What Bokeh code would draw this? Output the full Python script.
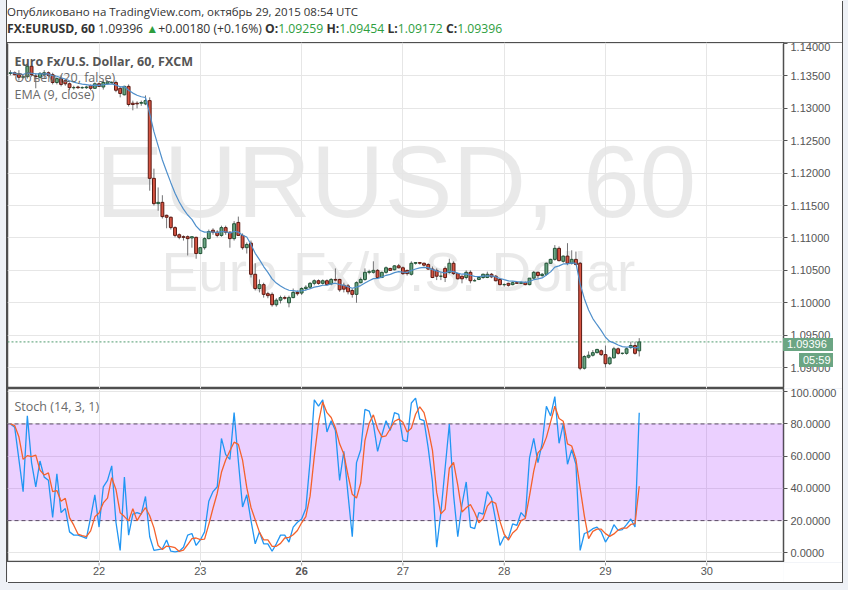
from bokeh.plotting import figure
from bokeh.models import (Range1d, ColumnDataSource, FixedTicker, Span, BoxAnnotation,
                          Label, Div, NumeralTickFormatter)
from bokeh.layouts import column
from bokeh.embed import file_html
from bokeh.resources import INLINE
from bokeh.core.properties import value
import pandas as pd

# ---------------- data (EURUSD, 60 min, FXCM) ----------------
hours = list(range(3, 153))   # hourly bar index, 24 bars per trading day (day 22 starts at 24)

opens = [1.1354, 1.1355, 1.1352, 1.1348, 1.1349, 1.1365, 1.1350, 1.1348, 1.1352, 1.1355,
         1.1352, 1.1340, 1.1346, 1.1343, 1.1338, 1.1332, 1.1333, 1.1332, 1.1332, 1.1335,
         1.1331, 1.1338, 1.1333, 1.1338, 1.1340, 1.1340, 1.1331, 1.1321, 1.1334, 1.1308,
         1.1308, 1.1308, 1.1307, 1.1312, 1.1192, 1.1153, 1.1155, 1.1135, 1.1132, 1.1116,
         1.1105, 1.1102, 1.1102, 1.1100, 1.1101, 1.1076, 1.1085, 1.1099, 1.1112, 1.1109,
         1.1104, 1.1116, 1.1109, 1.1099, 1.1124, 1.1104, 1.1085, 1.1092, 1.1044, 1.1022,
         1.1028, 1.1014, 1.1013, 1.0997, 1.1004, 1.1008, 1.1000, 1.1008, 1.1016, 1.1015,
         1.1022, 1.1024, 1.1030, 1.1034, 1.1030, 1.1034, 1.1029, 1.1036, 1.1036, 1.1027,
         1.1026, 1.1019, 1.1013, 1.1031, 1.1036, 1.1047, 1.1047, 1.1050, 1.1039, 1.1047,
         1.1053, 1.1051, 1.1057, 1.1054, 1.1050, 1.1044, 1.1061, 1.1062, 1.1061, 1.1059,
         1.1052, 1.1050, 1.1041, 1.1053, 1.1047, 1.1061, 1.1045, 1.1041, 1.1039, 1.1047,
         1.1034, 1.1036, 1.1039, 1.1039, 1.1044, 1.1041, 1.1036, 1.1028, 1.1030, 1.1028,
         1.1031, 1.1030, 1.1031, 1.1028, 1.1038, 1.1047, 1.1042, 1.1044, 1.1061, 1.1067,
         1.1084, 1.1064, 1.1072, 1.1061, 1.1067, 1.1061, 1.0899, 1.0916, 1.0919, 1.0923,
         1.0926, 1.0920, 1.0906, 1.0915, 1.0929, 1.0922, 1.0922, 1.0931, 1.0934, 1.09259]
highs = [1.1359, 1.1357, 1.1359, 1.1351, 1.1368, 1.1367, 1.1354, 1.1356, 1.1359, 1.1357,
         1.1355, 1.1348, 1.1351, 1.1345, 1.1340, 1.1335, 1.1335, 1.1334, 1.1335, 1.1337,
         1.1340, 1.1340, 1.1343, 1.1343, 1.1342, 1.1343, 1.1334, 1.1335, 1.1337, 1.1312,
         1.1311, 1.1312, 1.1320, 1.1317, 1.1207, 1.1178, 1.1166, 1.1136, 1.1133, 1.1118,
         1.1107, 1.1104, 1.1104, 1.1102, 1.1102, 1.1086, 1.1101, 1.1113, 1.1115, 1.1112,
         1.1119, 1.1119, 1.1110, 1.1126, 1.1133, 1.1107, 1.1093, 1.1096, 1.1061, 1.1036,
         1.1031, 1.1017, 1.1016, 1.1007, 1.1011, 1.1011, 1.1011, 1.1022, 1.1019, 1.1024,
         1.1027, 1.1032, 1.1036, 1.1036, 1.1036, 1.1036, 1.1038, 1.1053, 1.1037, 1.1031,
         1.1029, 1.1022, 1.1033, 1.1039, 1.1053, 1.1051, 1.1064, 1.1052, 1.1048, 1.1056,
         1.1054, 1.1058, 1.1060, 1.1056, 1.1051, 1.1064, 1.1062, 1.1062, 1.1062, 1.1061,
         1.1056, 1.1053, 1.1047, 1.1056, 1.1068, 1.1064, 1.1046, 1.1042, 1.1050, 1.1050,
         1.1037, 1.1039, 1.1045, 1.1048, 1.1046, 1.1043, 1.1037, 1.1030, 1.1031, 1.1033,
         1.1033, 1.1033, 1.1033, 1.1038, 1.1049, 1.1048, 1.1046, 1.1062, 1.1068, 1.1089,
         1.1087, 1.1073, 1.1092, 1.1081, 1.1079, 1.1063, 1.0919, 1.0925, 1.0927, 1.0929,
         1.0928, 1.0934, 1.0917, 1.0932, 1.0931, 1.0923, 1.0931, 1.0940, 1.0940, 1.09454]
lows = [1.1351, 1.1351, 1.1343, 1.1346, 1.1346, 1.1349, 1.1331, 1.1346, 1.1346, 1.1349,
        1.1337, 1.1337, 1.1334, 1.1335, 1.1328, 1.1329, 1.1330, 1.1330, 1.1330, 1.1328,
        1.1330, 1.1333, 1.1329, 1.1337, 1.1338, 1.1325, 1.1317, 1.1320, 1.1303, 1.1297,
        1.1300, 1.1304, 1.1305, 1.1173, 1.1150, 1.1142, 1.1130, 1.1115, 1.1113, 1.1101,
        1.1098, 1.1096, 1.1073, 1.1085, 1.1068, 1.1075, 1.1082, 1.1098, 1.1105, 1.1101,
        1.1102, 1.1105, 1.1085, 1.1096, 1.1104, 1.1082, 1.1076, 1.1039, 1.1019, 1.1016,
        1.1008, 1.1007, 1.0994, 1.0994, 1.0999, 1.1005, 1.0993, 1.1007, 1.1011, 1.1012,
        1.1019, 1.1021, 1.1027, 1.1028, 1.1028, 1.1027, 1.1027, 1.1033, 1.1017, 1.1016,
        1.1013, 1.1008, 1.1000, 1.1030, 1.1034, 1.1044, 1.1045, 1.1038, 1.1038, 1.1045,
        1.1049, 1.1050, 1.1053, 1.1043, 1.1042, 1.1042, 1.1059, 1.1059, 1.1056, 1.1051,
        1.1038, 1.1035, 1.1035, 1.1032, 1.1045, 1.1043, 1.1036, 1.1030, 1.1036, 1.1030,
        1.1033, 1.1035, 1.1037, 1.1038, 1.1038, 1.1033, 1.1027, 1.1025, 1.1025, 1.1027,
        1.1030, 1.1029, 1.1027, 1.1027, 1.1036, 1.1038, 1.1040, 1.1042, 1.1060, 1.1065,
        1.1064, 1.1062, 1.1058, 1.1059, 1.1058, 1.0896, 1.0897, 1.0914, 1.0917, 1.0922,
        1.0918, 1.0900, 1.0904, 1.0914, 1.0920, 1.0920, 1.0920, 1.0929, 1.0920, 1.09172]
closes = [1.1355, 1.1352, 1.1348, 1.1349, 1.1365, 1.1352, 1.1349, 1.1354, 1.1355, 1.1351,
          1.1340, 1.1346, 1.1337, 1.1338, 1.1332, 1.1332, 1.1332, 1.1332, 1.1333, 1.1331,
          1.1338, 1.1334, 1.1340, 1.1341, 1.1340, 1.1328, 1.1323, 1.1334, 1.1306, 1.1306,
          1.1307, 1.1309, 1.1312, 1.1192, 1.1153, 1.1155, 1.1133, 1.1132, 1.1116, 1.1104,
          1.1101, 1.1101, 1.1099, 1.1102, 1.1076, 1.1085, 1.1099, 1.1110, 1.1109, 1.1104,
          1.1116, 1.1109, 1.1099, 1.1122, 1.1104, 1.1085, 1.1090, 1.1044, 1.1022, 1.1028,
          1.1013, 1.1011, 1.0997, 1.1004, 1.1008, 1.1007, 1.1008, 1.1016, 1.1014, 1.1022,
          1.1024, 1.1030, 1.1034, 1.1030, 1.1034, 1.1028, 1.1036, 1.1035, 1.1020, 1.1021,
          1.1017, 1.1013, 1.1031, 1.1036, 1.1047, 1.1048, 1.1050, 1.1039, 1.1047, 1.1054,
          1.1050, 1.1057, 1.1054, 1.1045, 1.1045, 1.1061, 1.1062, 1.1061, 1.1058, 1.1052,
          1.1039, 1.1041, 1.1041, 1.1039, 1.1061, 1.1045, 1.1037, 1.1037, 1.1047, 1.1034,
          1.1034, 1.1039, 1.1044, 1.1044, 1.1040, 1.1034, 1.1028, 1.1028, 1.1027, 1.1031,
          1.1030, 1.1031, 1.1028, 1.1038, 1.1047, 1.1042, 1.1044, 1.1061, 1.1067, 1.1084,
          1.1065, 1.1072, 1.1061, 1.1067, 1.1059, 1.0899, 1.0917, 1.0919, 1.0923, 1.0928,
          1.0920, 1.0906, 1.0915, 1.0929, 1.0922, 1.0922, 1.0929, 1.0934, 1.0922, 1.09396]

# Stochastic %K (14, 3, 1)
stoch_k = [80, 78, 58, 38, 85, 56, 41, 57, 47, 45, 22, 49, 25, 27.5, 13, 11, 11, 10, 9, 22,
           36, 16, 41, 45, 54, 19, 1.5, 47, 11, 24, 25, 24, 35, 10, 1.5, 2, 2.5, 8, 1, 0.6,
           1, 3.5, 11, 12, 4.6, 8, 13, 32, 38, 41, 71, 61, 58, 87, 57, 28.5, 36, 20, 5.6, 13,
           5.6, 5.6, 1, 5.6, 11, 11, 6.7, 16, 19, 21, 27.5, 57, 95, 91, 95, 75, 82, 76, 45,
           63, 36, 10, 56, 64, 89, 88, 80, 63, 73, 82, 76, 87, 86, 70, 69, 93, 96, 83, 82,
           65, 44, 3.5, 25, 52.5, 80, 36, 10, 30, 44, 16, 15, 25, 24, 38, 34, 20, 4.6, 10, 9,
           18, 17, 25, 22, 59, 71, 56, 68, 91, 85, 97, 68, 80, 55, 64, 55, 1.5, 12, 13, 15,
           16, 13, 6.7, 11, 17.5, 14, 14.4, 17.5, 21, 16, 87]

day_ticks = [24, 48, 72, 96, 120, 144, 168]
day_labels = ["22", "23", "26", "27", "28", "29", "30"]
day_label_weight = ["normal", "normal", "bold", "normal", "normal", "normal", "normal"]
price_ticks = [1.090, 1.095, 1.100, 1.105, 1.110, 1.115, 1.120, 1.125, 1.130, 1.135, 1.140]
stoch_ticks = [0, 20, 40, 60, 80, 100]
last_price = "1.09396"
countdown = "05:59"

# ---------------- derived indicator lines ----------------
ema9 = pd.Series(closes).ewm(span=9, adjust=False).mean().tolist()
stoch_d = pd.Series(stoch_k).rolling(3, min_periods=1).mean().tolist()

UP_FILL, UP_LINE = "#6ba583", "#225437"
DN_FILL, DN_LINE = "#d75442", "#5b1a13"
WICK = "#737375"
GRID = "#e6e6e6"
FRAME = "#4f4f4f"
AXTXT = "#555555"
TAG = "#6ba583"

FW = 776          # frame width shared by all panes
RB = 59           # right price-scale strip

df = pd.DataFrame(dict(t=hours, o=opens, h=highs, l=lows, c=closes))
df["top"] = df[["o", "c"]].max(axis=1)
df["bot"] = df[["o", "c"]].min(axis=1)
df["fill"] = [UP_FILL if c >= o else DN_FILL for o, c in zip(opens, closes)]
df["line"] = [UP_LINE if c >= o else DN_LINE for o, c in zip(opens, closes)]
src = ColumnDataSource(df)

xr = Range1d(2.3, 2.3 + FW / 4.22)


def style_yaxis(ax, fmt):
    ax.formatter = NumeralTickFormatter(format=fmt)
    ax.axis_line_color = None
    ax.major_tick_line_color = AXTXT
    ax.major_tick_out = 4
    ax.major_tick_in = 0
    ax.minor_tick_line_color = None
    ax.major_label_standoff = 3
    ax.major_label_text_font = "Liberation Sans"
    ax.major_label_text_font_size = "11px"
    ax.major_label_text_color = AXTXT


# ---------------- price pane ----------------
p = figure(frame_width=FW, frame_height=346, x_range=xr,
           y_range=Range1d(1.08677, 1.14017), y_axis_location="right",
           x_axis_location=None, output_backend="svg", toolbar_location=None,
           min_border_left=0, min_border_right=RB, min_border_top=0, min_border_bottom=0,
           background_fill_color="white", border_fill_color="white", margin=0,
           styles={"outline": "1px solid #4f4f4f", "outline-offset": "-1px"})
p.outline_line_color = FRAME
p.outline_line_width = 1.5
p.xgrid.ticker = FixedTicker(ticks=day_ticks)
p.ygrid.ticker = FixedTicker(ticks=price_ticks)
p.grid.grid_line_color = GRID
p.yaxis[0].ticker = FixedTicker(ticks=price_ticks)
style_yaxis(p.yaxis[0], "0.00000")

# watermark
p.add_layout(Label(x=88, y=150, x_units="screen", y_units="screen", text="EURUSD, 60",
                   text_font="Liberation Sans", text_font_size="102px",
                   text_color="#000000", text_alpha=0.085, level="image"))
p.add_layout(Label(x=154, y=86, x_units="screen", y_units="screen", text="Euro Fx/U.S. Dollar",
                   text_font="Liberation Sans", text_font_size="55px",
                   text_color="#000000", text_alpha=0.085, level="image"))

p.add_layout(Span(location=closes[-1], dimension="width", line_color="#4f9a6e",
                  line_dash="2 2", line_width=1, level="underlay"))

p.segment(x0="t", y0="l", x1="t", y1="h", source=src, line_color=WICK, line_width=1)
p.vbar(x="t", width=0.68, top="top", bottom="bot", source=src,
       fill_color="fill", line_color="line", line_width=1)
p.line(hours, ema9, line_color="#4f8fcb", line_width=1.2)

for txt, yy, bold, col in [("Euro Fx/U.S. Dollar, 60, FXCM", 327, "bold", "#555555"),
                           ("Объём (20, false)", 311, "normal", "#6a6a6a"),
                           ("EMA (9, close)", 294, "normal", "#6a6a6a")]:
    p.add_layout(Label(x=7, y=yy, x_units="screen", y_units="screen", text=txt,
                       text_font="Open Sans", text_font_size="12.5px", text_font_style=bold,
                       text_color=col, text_baseline="middle"))

# ---------------- stochastic pane ----------------
s = figure(frame_width=FW, frame_height=174, x_range=xr, y_range=Range1d(-6.0, 102.0),
           y_axis_location="right", x_axis_location=None,
           output_backend="svg", toolbar_location=None,
           min_border_left=0, min_border_right=RB, min_border_top=0, min_border_bottom=0,
           background_fill_color="white", border_fill_color="white", margin=0)
s.outline_line_color = FRAME
s.outline_line_width = 1.5
s.xgrid.ticker = FixedTicker(ticks=day_ticks)
s.ygrid.ticker = FixedTicker(ticks=stoch_ticks)
s.grid.grid_line_color = GRID
s.add_layout(BoxAnnotation(bottom=20, top=80, fill_color="#9915ff", fill_alpha=0.2,
                           line_color=None, level="underlay"))
for lv in (20, 80):
    s.add_layout(Span(location=lv, dimension="width", line_color="#5a4a66",
                      line_dash="4 3", line_width=1, level="underlay"))
s.line(hours, stoch_k, line_color="#2196f3", line_width=1.3)
s.line(hours, stoch_d, line_color="#f4622c", line_width=1.3)
s.yaxis[0].ticker = FixedTicker(ticks=stoch_ticks)
style_yaxis(s.yaxis[0], "0.0000")
s.add_layout(Label(x=7, y=156, x_units="screen", y_units="screen", text="Stoch (14, 3, 1)",
                   text_font="Open Sans", text_font_size="12.5px", text_color="#6a6a6a",
                   text_baseline="middle"))

# ---------------- time scale strip ----------------
t = figure(frame_width=FW, frame_height=20, x_range=xr, y_range=Range1d(0, 20),
           x_axis_location=None, y_axis_location=None, output_backend="svg",
           toolbar_location=None, min_border_left=0, min_border_right=RB,
           min_border_top=0, min_border_bottom=0, margin=0,
           background_fill_color="white", border_fill_color="white")
t.outline_line_color = None
t.grid.visible = False
t.segment(x0=day_ticks, y0=[20] * 7, x1=day_ticks, y1=[17] * 7, line_color="#9a9a9a")
t.text(x=day_ticks, y=[12] * 7, text=day_labels, text_font_style=day_label_weight,
       text_font=value("Liberation Sans"), text_font_size=value("11px"),
       text_color=AXTXT, text_align="center", text_baseline="middle")

# ---------------- header (+ last price / countdown tags on the price scale) ----------------
G = "#2e9e3e"
tag_css = ("position:absolute;background:%s;color:#ffffff;font-family:'Liberation Sans';"
           "font-size:11px;box-sizing:border-box;padding-left:4px;" % TAG)
header_html = (
    '<div style="padding-top:3px;font-family:\'Open Sans\';color:#333;line-height:17px;'
    'white-space:nowrap;">'
    '<div style="font-size:11.5px;">Опубликовано на TradingView.com, октябрь 29, 2015 08:54 UTC</div>'
    '<div style="font-size:12.2px;">'
    '<b>FX:EURUSD, 60</b> 1.09396 <span style="color:%s">&#9650;</span>+0.00180 (+0.16%%) '
    '<b>O:</b><span style="color:%s">1.09259</span> <b>H:</b><span style="color:%s">1.09454</span> '
    '<b>L:</b><span style="color:%s">1.09172</span> <b>C:</b><span style="color:%s">1.09396</span>'
    '</div></div>'
    '<div style="%sleft:776px;top:338px;width:50px;height:13px;line-height:13px;">%s</div>'
    '<div style="%sleft:792px;top:353px;width:34px;height:14px;line-height:14px;">%s</div>'
    % (G, G, G, G, G, tag_css, last_price, tag_css, countdown))
header = Div(text=header_html, width=FW + RB, height=42, margin=0,
             styles={"background-color": "white", "position": "relative",
                     "z-index": "10", "overflow": "visible"})

layout = column(header, p, s, t, spacing=0, margin=(0, 0, 0, 7),
                styles={"box-shadow": "1px 1px 0 0 #4f4f4f, -1px 0 0 0 #4f4f4f"})

try:
    from jinja2 import Template
    tmpl = Template('{% extends base %}{% block postamble %}'
                    '<style>body{background:#eef1f6;}</style>{% endblock %}')
    html = file_html(layout, INLINE, title="EURUSD", template=tmpl)
except Exception:
    html = file_html(layout, INLINE, title="EURUSD")
open("out.html", "w").write(html)
